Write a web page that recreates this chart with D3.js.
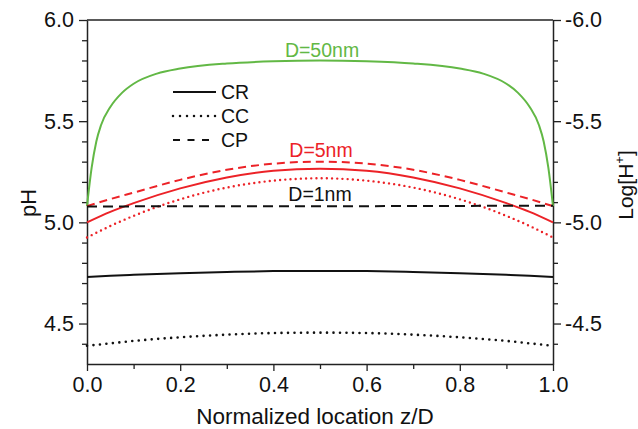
<!DOCTYPE html>
<html><head><meta charset="utf-8">
<script src="https://cdn.jsdelivr.net/npm/d3@7"></script>
<style>body{margin:0;background:#fff}svg{display:block}text{font-family:Arial,"Liberation Sans",sans-serif}</style>
</head><body><svg id="c" width="638" height="429"></svg>
<script>
// Data
const zFine = [0, 0.01, 0.02, 0.03, 0.05, 0.075, 0.1, 0.15, 0.2, 0.3, 0.4, 0.5, 0.6, 0.7, 0.8, 0.85, 0.9, 0.925, 0.95, 0.97, 0.98, 0.99, 1.0];
const green50CR = [5.08, 5.27, 5.40, 5.48, 5.57, 5.64, 5.685, 5.735, 5.76, 5.785, 5.796, 5.80, 5.796, 5.785, 5.76, 5.735, 5.685, 5.64, 5.57, 5.48, 5.40, 5.27, 5.08];
const zCoarse = [0, 0.05, 0.1, 0.2, 0.3, 0.4, 0.5, 0.6, 0.7, 0.8, 0.9, 0.95, 1.0];
const red5CR = [5.00, 5.052, 5.095, 5.168, 5.222, 5.255, 5.265, 5.255, 5.222, 5.168, 5.095, 5.052, 5.00];
const red5CP = [5.08, 5.115, 5.147, 5.21, 5.26, 5.29, 5.30, 5.29, 5.26, 5.21, 5.147, 5.115, 5.08];
const red5CC = [4.925, 4.982, 5.032, 5.114, 5.172, 5.206, 5.218, 5.206, 5.172, 5.114, 5.032, 4.982, 4.925];
const black1CR = [4.73, 4.736, 4.741, 4.749, 4.755, 4.759, 4.76, 4.759, 4.755, 4.749, 4.741, 4.736, 4.73];
const black1CC = [4.39, 4.402, 4.414, 4.432, 4.445, 4.453, 4.455, 4.453, 4.445, 4.432, 4.414, 4.402, 4.39];
const black1CP = [5.078, 5.078, 5.079, 5.079, 5.08, 5.08, 5.08, 5.08, 5.081, 5.081, 5.082, 5.082, 5.082];
const xTicks = [0, 0.2, 0.4, 0.6, 0.8, 1.0];
const yTicks = [4.5, 5.0, 5.5, 6.0];
const rightTickLabels = ["-4.5", "-5.0", "-5.5", "-6.0"];
const legendItems = ["CR", "CC", "CP"];
const seriesLabels = ["D=50nm", "D=5nm", "D=1nm"];

const GREEN = "#62b845", RED = "#ec2227", BLACK = "#111";
const svg = d3.select("#c");
const L = 87, R = 553, T = 20, B = 364;
const x = d3.scaleLinear().domain([0, 1]).range([L, R]);
const y = d3.scaleLinear().domain([4.3, 6.0]).range([B, T]);

// frame
svg.append("line").attr("x1", L).attr("x2", R).attr("y1", T).attr("y2", T).attr("stroke", "#222").attr("stroke-width", 1.5);

function minor(lo, hi, step) { const a = []; for (let v = lo; v <= hi + 1e-9; v += step) a.push(+v.toFixed(3)); return a; }
const tickFont = 21.5;
// bottom axis
const gx = svg.append("g").attr("transform", `translate(0,${B})`);
gx.call(d3.axisBottom(x).tickValues(minor(0.1, 0.9, 0.2)).tickSize(5).tickFormat(""));
gx.call(g => g.select(".domain").remove());
const gx2 = svg.append("g").attr("transform", `translate(0,${B})`)
  .call(d3.axisBottom(x).tickValues(xTicks).tickSize(7).tickSizeOuter(0).tickPadding(6).tickFormat(d3.format(".1f")));
gx2.select(".domain").attr("stroke-width", 1.5);
// left axis
const minorY = minor(4.4, 5.9, 0.1).filter(v => !yTicks.some(t => Math.abs(t - v) < 1e-6));
const gyM = svg.append("g").attr("transform", `translate(${L},0)`)
  .call(d3.axisLeft(y).tickValues(minorY).tickSize(5).tickFormat(""));
gyM.select(".domain").remove();
const gy = svg.append("g").attr("transform", `translate(${L},0)`)
  .call(d3.axisLeft(y).tickValues(yTicks).tickSize(8).tickSizeOuter(0).tickPadding(5).tickFormat(d3.format(".1f")));
gy.select(".domain").attr("stroke-width", 1.5);
// right axis
const gyrM = svg.append("g").attr("transform", `translate(${R},0)`)
  .call(d3.axisRight(y).tickValues(minorY).tickSize(5).tickFormat(""));
gyrM.select(".domain").remove();
const gyr = svg.append("g").attr("transform", `translate(${R},0)`)
  .call(d3.axisRight(y).tickValues(yTicks).tickSize(8).tickSizeOuter(0).tickPadding(4).tickFormat((d, i) => rightTickLabels[i]));
gyr.select(".domain").attr("stroke-width", 1.5);
svg.selectAll(".tick line").attr("stroke", "#222").attr("stroke-width", 1.3);
svg.selectAll(".domain").attr("stroke", "#222");
svg.selectAll(".tick text").attr("font-size", tickFont).attr("fill", "#111").style("font-family", "Arial, 'Liberation Sans', sans-serif");

// axis titles
svg.append("text").attr("x", 315).attr("y", 424).attr("text-anchor", "middle").attr("font-size", 22.5).attr("fill", "#111").text("Normalized location z/D");
svg.append("text").attr("transform", `translate(36,203) rotate(-90)`).attr("text-anchor", "middle").attr("font-size", 22).attr("fill", "#111").text("pH");
const rt = svg.append("text").attr("transform", `translate(633,185) rotate(-90)`).attr("text-anchor", "middle").attr("font-size", 21).attr("fill", "#111");
rt.append("tspan").text("Log[H");
rt.append("tspan").attr("font-size", 13).attr("dy", -9).text("+");
rt.append("tspan").attr("dy", 9).text("]");

// curves
const line = d3.line().x(d => x(d[0])).y(d => y(d[1])).curve(d3.curveMonotoneX);
function draw(zs, vs, color, dash, width) {
  svg.append("path").datum(zs.map((z, i) => [z, vs[i]])).attr("d", line)
    .attr("fill", "none").attr("stroke", color).attr("stroke-width", width || 2)
    .attr("stroke-dasharray", dash || null).attr("stroke-linecap", dash && dash.startsWith("0") ? "round" : "butt");
}
draw(zFine, green50CR, GREEN, null, 2);
draw(zCoarse, red5CR, RED, null, 2);
draw(zCoarse, red5CP, RED, "8,5", 2);
draw(zCoarse, red5CC, RED, "0,5.2", 2.4);
draw(zCoarse, black1CR, BLACK, null, 2);
draw(zCoarse, black1CC, BLACK, "0,6.5", 2.6);
draw(zCoarse, black1CP, BLACK, "10,6", 2);

// series labels
svg.append("text").attr("x", 322).attr("y", 57).attr("text-anchor", "middle").attr("font-size", 19.5).attr("fill", GREEN).text(seriesLabels[0]);
svg.append("text").attr("x", 321).attr("y", 157).attr("text-anchor", "middle").attr("font-size", 19.5).attr("fill", RED).text(seriesLabels[1]);
svg.append("text").attr("x", 320).attr("y", 201).attr("text-anchor", "middle").attr("font-size", 19.5).attr("fill", BLACK).text(seriesLabels[2]);

// legend
const legDash = [null, "0,7", "7,7.5"];
legendItems.forEach((name, i) => {
  const yy = 92 + i * 24;
  svg.append("line").attr("x1", 173).attr("x2", 216).attr("y1", yy).attr("y2", yy)
    .attr("stroke", BLACK).attr("stroke-width", legDash[i] && legDash[i].startsWith("0") ? 2.5 : 2)
    .attr("stroke-dasharray", legDash[i]).attr("stroke-linecap", legDash[i] && legDash[i].startsWith("0") ? "round" : "butt");
  svg.append("text").attr("x", 221).attr("y", yy + 7).attr("font-size", 19.5).attr("fill", "#111").text(name);
});
</script></body></html>
